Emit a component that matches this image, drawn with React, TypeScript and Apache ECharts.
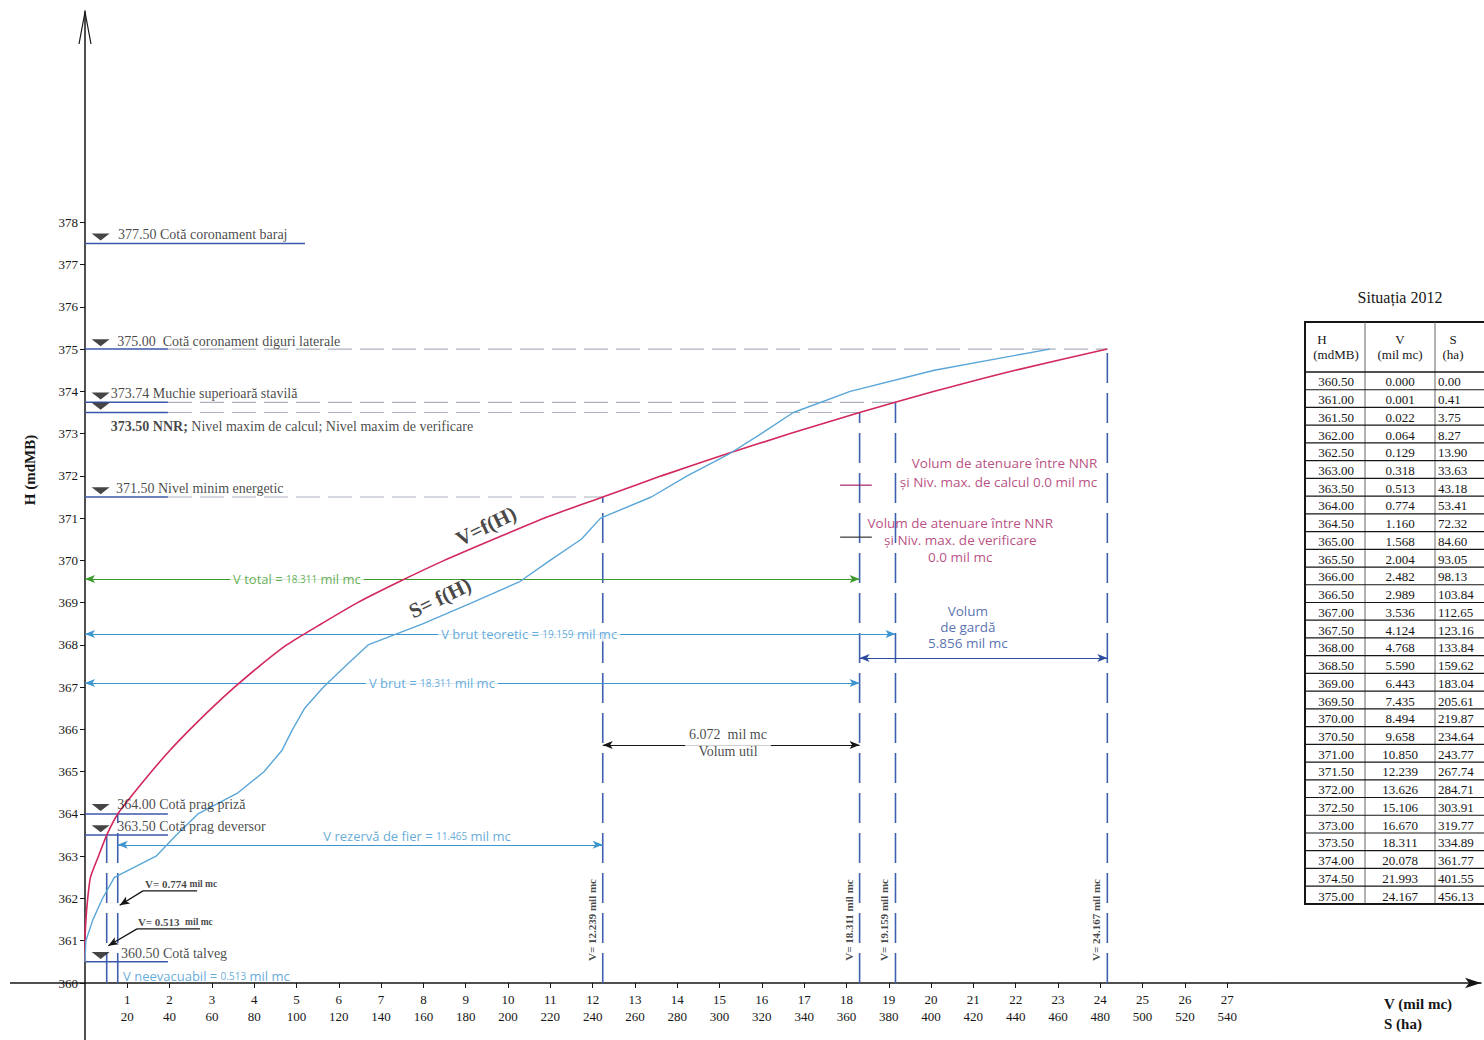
import React, { useEffect, useRef } from "react";
import * as echarts from "echarts";

// ---------- DATA (Situația 2012) ----------
const H_LEVELS = [360.5, 361.0, 361.5, 362.0, 362.5, 363.0, 363.5, 364.0, 364.5, 365.0, 365.5, 366.0, 366.5, 367.0, 367.5, 368.0, 368.5, 369.0, 369.5, 370.0, 370.5, 371.0, 371.5, 372.0, 372.5, 373.0, 373.5, 374.0, 374.5, 375.0];
const V_VOLUME = [0.0, 0.001, 0.022, 0.064, 0.129, 0.318, 0.513, 0.774, 1.16, 1.568, 2.004, 2.482, 2.989, 3.536, 4.124, 4.768, 5.59, 6.443, 7.435, 8.494, 9.658, 10.85, 12.239, 13.626, 15.106, 16.67, 18.311, 20.078, 21.993, 24.167];
const S_AREA = [0.0, 0.41, 3.75, 8.27, 13.9, 33.63, 43.18, 53.41, 72.32, 84.6, 93.05, 98.13, 103.84, 112.65, 123.16, 133.84, 159.62, 183.04, 205.61, 219.87, 234.64, 243.77, 267.74, 284.71, 303.91, 319.77, 334.89, 361.77, 401.55, 456.13];

const H_TICKS = [360, 361, 362, 363, 364, 365, 366, 367, 368, 369, 370, 371, 372, 373, 374, 375, 376, 377, 378];
const V_TICKS = [1, 2, 3, 4, 5, 6, 7, 8, 9, 10, 11, 12, 13, 14, 15, 16, 17, 18, 19, 20, 21, 22, 23, 24, 25, 26, 27];
const S_TICKS = [20, 40, 60, 80, 100, 120, 140, 160, 180, 200, 220, 240, 260, 280, 300, 320, 340, 360, 380, 400, 420, 440, 460, 480, 500, 520, 540];

const KEY_LEVELS = [377.5, 375.0, 373.74, 373.5, 371.5, 364.0, 363.5, 360.5];
const KEY_LEVEL_NAMES = ["Cotă coronament baraj", " Cotă coronament diguri laterale", "Muchie superioară stavilă", "NNR;", "Nivel minim energetic", "Cotă prag priză", "Cotă prag deversor", "Cotă talveg"];

const KEY_VOLUMES = [0.513, 0.774, 12.239, 18.311, 19.159, 24.167];
const KEY_VOLUME_TOPS = [363.5, 364.0, 371.5, 373.5, 373.74, 375.0];

const V_TOTAL = 18.311;
const V_BRUT_TEORETIC = 19.159;
const V_BRUT = 18.311;
const V_REZERVA = 11.465;
const V_NEEVACUABIL = 0.513;
const V_UTIL = 6.072;
const V_GARDA = 5.856;
const V_ATENUARE_CALCUL = 0.0;
const V_ATENUARE_VERIF = 0.0;

// ---------- STYLE ----------
const SERIF = '"Liberation Serif", "Times New Roman", serif';
const SANS = '"Open Sans", "Liberation Sans", sans-serif';
const INK = "#161616";
const RED = "#d2285c";
const SKY = "#5aa6d8";
const LBLUE = "#3d95cf";
const NAVY = "#3a58a8";
const GREEN = "#3c9a2c";
const MAGENTA = "#a82062";
const GRAY = "#aeb1bf";

function seg(points: number[][], color: string, width = 1.2, type: any = "solid", z = 3) {
  return {
    type: "line",
    data: points,
    symbol: "none",
    silent: true,
    z,
    lineStyle: { color, width, type },
    emphasis: { disabled: true },
  };
}

function arrowLine(p1: number[], p2: number[], color: string, symbols: string[], width = 1.2, z = 4) {
  return {
    type: "line",
    data: [],
    silent: true,
    z,
    markLine: {
      silent: true,
      symbol: symbols,
      symbolSize: [6, 10],
      lineStyle: { color, width, type: "solid" },
      label: { show: false },
      emphasis: { disabled: true },
      data: [[{ coord: p1 }, { coord: p2 }]],
    },
  };
}

function txt(x: number, y: number, text: string, o: any = {}) {
  return {
    value: [x, y],
    label: {
      show: true,
      position: "inside",
      formatter: () => text,
      color: INK,
      fontFamily: SERIF,
      fontSize: 14,
      align: "left",
      verticalAlign: "middle",
      ...o,
    },
  };
}

function buildOption() {
  const texts: any[] = [];

  // level annotations
  const LEVEL_DX = [0.78, 0.76, 0.61, 0.61, 0.73, 0.76, 0.76, 0.85];
  const LEVEL_DY = [0.21, 0.19, 0.2, -0.32, 0.2, 0.22, 0.2, 0.2];
  KEY_LEVELS.forEach((h, i) => {
    const label =
      i === 3
        ? `{b|${h.toFixed(2)} ${KEY_LEVEL_NAMES[i]}} Nivel maxim de calcul; Nivel maxim de verificare`
        : `${h.toFixed(2)} ${KEY_LEVEL_NAMES[i]}`;
    texts.push(
      txt(LEVEL_DX[i], h + LEVEL_DY[i], label, {
        rich: { b: { fontWeight: "bold", fontFamily: SERIF, fontSize: 14, color: INK } },
      })
    );
  });

  // vertical V= labels
  KEY_VOLUMES.slice(2).forEach((v) => {
    texts.push(
      txt(v - 0.26, 361.49, `V= ${v.toFixed(3)} mil mc`, {
        rotate: 90,
        align: "center",
        fontWeight: "bold",
        fontSize: 11,
      })
    );
  });

  const numRich = (color: string, font = SANS) => ({
    n: { fontSize: 10, fontFamily: font, color },
  });

  texts.push(
    txt(5.01, 369.56, `V total = {n|${V_TOTAL.toFixed(3)}} mil mc`, {
      align: "center", fontFamily: SANS, fontSize: 13, color: GREEN,
      backgroundColor: "#fff", padding: [1, 3], rich: numRich(GREEN),
    })
  );
  texts.push(
    txt(10.5, 368.26, `V brut teoretic = {n|${V_BRUT_TEORETIC.toFixed(3)}} mil mc`, {
      align: "center", fontFamily: SANS, fontSize: 13, color: LBLUE,
      backgroundColor: "#fff", padding: [1, 3], rich: numRich(LBLUE),
    })
  );
  texts.push(
    txt(8.2, 367.1, `V brut = {n|${V_BRUT.toFixed(3)}} mil mc`, {
      align: "center", fontFamily: SANS, fontSize: 13, color: LBLUE,
      backgroundColor: "#fff", padding: [1, 3], rich: numRich(LBLUE),
    })
  );
  texts.push(
    txt(7.85, 363.48, `V rezervă de fier = {n|${V_REZERVA.toFixed(3)}} mil mc`, {
      align: "center", fontFamily: SANS, fontSize: 13, color: LBLUE, rich: numRich(LBLUE),
    })
  );
  texts.push(
    txt(0.9, 360.17, `V neevacuabil = {n|${V_NEEVACUABIL.toFixed(3)}} mil mc`, {
      fontFamily: SANS, fontSize: 13, color: LBLUE, rich: numRich(LBLUE),
    })
  );
  texts.push(
    txt(15.2, 365.67, `${V_UTIL.toFixed(3)}  mil mc\nVolum util`, {
      align: "center", fontSize: 14, lineHeight: 17, backgroundColor: "#fff", padding: [0, 4],
    })
  );
  texts.push(
    txt(20.87, 368.42, `Volum\nde gardă\n${V_GARDA.toFixed(3)} mil mc`, {
      align: "center", fontFamily: SANS, fontSize: 13.5, lineHeight: 16, color: "#2c4c9c",
    })
  );
  texts.push(
    txt(23.93, 372.09, `Volum de atenuare între NNR\nși Niv. max. de calcul ${V_ATENUARE_CALCUL.toFixed(1)} mil mc`, {
      align: "right", fontFamily: SANS, fontSize: 13.5, lineHeight: 19, color: MAGENTA,
    })
  );
  texts.push(
    txt(20.69, 370.48, `Volum de atenuare între NNR\nși Niv. max. de verificare\n${V_ATENUARE_VERIF.toFixed(1)} mil mc`, {
      align: "center", fontFamily: SANS, fontSize: 13.5, lineHeight: 17, color: MAGENTA,
    })
  );

  // curve names
  texts.push(txt(9.48, 370.81, "V=f(H)", { align: "center", rotate: 26, fontWeight: "bold", fontSize: 21 }));
  texts.push(txt(8.39, 369.11, "S= f(H)", { align: "center", rotate: 26, fontWeight: "bold", fontSize: 21 }));

  // small leader labels
  texts.push(
    txt(1.42, 362.34, `V= ${KEY_VOLUMES[1].toFixed(3)} {m|mil mc}`, {
      fontWeight: "bold", fontSize: 11, rich: { m: { fontSize: 9.5, fontWeight: "bold", fontFamily: SERIF, color: INK } },
    })
  );
  texts.push(
    txt(1.25, 361.44, `V= ${KEY_VOLUMES[0].toFixed(3)}  {m|mil mc}`, {
      fontWeight: "bold", fontSize: 11, rich: { m: { fontSize: 9.5, fontWeight: "bold", fontFamily: SERIF, color: INK } },
    })
  );

  const series: any[] = [];

  // level stubs (solid) and dashed continuations
  KEY_LEVELS.forEach((h, i) => {
    series.push(seg([[0, h], [i === 0 ? 5.2 : 1.96, h]], NAVY, 1.5));
  });
  series.push(seg([[1.96, KEY_LEVELS[1]], [KEY_VOLUMES[5], KEY_LEVELS[1]]], GRAY, 1.2, [24, 8], 2));
  series.push(seg([[1.96, KEY_LEVELS[2]], [KEY_VOLUMES[4], KEY_LEVELS[2]]], GRAY, 1.2, [24, 8], 2));
  series.push(seg([[1.96, KEY_LEVELS[3]], [KEY_VOLUMES[3], KEY_LEVELS[3]]], GRAY, 1.2, [24, 8], 2));
  series.push(seg([[1.96, KEY_LEVELS[4]], [KEY_VOLUMES[2], KEY_LEVELS[4]]], GRAY, 1.2, [24, 8], 2));

  // vertical dashed volume lines
  KEY_VOLUMES.forEach((v, i) => {
    series.push(seg([[v, 360], [v, KEY_VOLUME_TOPS[i]]], "#3f5fb0", 1.6, [30, 10], 3));
  });

  // dimension lines
  const both = ["arrow", "arrow"];
  series.push(arrowLine([0, 369.56], [V_TOTAL, 369.56], GREEN, both));
  series.push(arrowLine([0, 368.26], [V_BRUT_TEORETIC, 368.26], LBLUE, both));
  series.push(arrowLine([0, 367.1], [V_BRUT, 367.1], LBLUE, both));
  series.push(arrowLine([KEY_VOLUMES[1], 363.27], [KEY_VOLUMES[2], 363.27], LBLUE, both));
  series.push(arrowLine([KEY_VOLUMES[2], 365.63], [KEY_VOLUMES[3], 365.63], INK, both));
  series.push(arrowLine([KEY_VOLUMES[3], 367.69], [KEY_VOLUMES[5], 367.69], "#2c4c9c", both));
  series.push(seg([[17.85, 371.78], [18.6, 371.78]], MAGENTA, 1.2));
  series.push(seg([[17.85, 370.55], [18.6, 370.55]], "#333", 1.2));

  // leaders
  series.push(seg([[1.37, 362.18], [2.65, 362.18]], INK, 1.2));
  series.push(arrowLine([1.37, 362.18], [0.82, 361.84], INK, ["none", "arrow"], 1.3));
  series.push(seg([[1.23, 361.28], [2.72, 361.28]], INK, 1.2));
  series.push(arrowLine([1.23, 361.28], [0.55, 360.88], INK, ["none", "arrow"], 1.3));

  // triangles
  series.push({
    type: "scatter",
    symbol: "triangle",
    symbolRotate: 180,
    symbolSize: [18, 7],
    silent: true,
    z: 6,
    itemStyle: { color: INK },
    data: KEY_LEVELS.map((h) => [0.37, h + 0.15]),
  });

  // curves
  series.push({
    type: "line",
    name: "V=f(H)",
    xAxisIndex: 0,
    data: H_LEVELS.map((h, i) => [V_VOLUME[i], h]),
    symbol: "none",
    smooth: 0.2,
    silent: true,
    z: 7,
    lineStyle: { color: RED, width: 1.6 },
  });
  series.push({
    type: "line",
    name: "S=f(H)",
    xAxisIndex: 1,
    data: H_LEVELS.map((h, i) => [S_AREA[i], h]),
    symbol: "none",
    silent: true,
    z: 7,
    lineStyle: { color: SKY, width: 1.4 },
  });

  // texts
  series.push({
    type: "scatter",
    symbol: "circle",
    symbolSize: 1,
    itemStyle: { color: "rgba(0,0,0,0)" },
    silent: true,
    clip: false,
    z: 10,
    data: texts,
    emphasis: { disabled: true },
  });

  // table graphic
  const tLeft = 1305, tTop = 322, headH = 50, rowH = 17.73, tRight = 1520;
  const colX = [1365, 1435];
  const tBottom = tTop + headH + rowH * H_LEVELS.length;
  const tableEls: any[] = [
    { type: "rect", shape: { x: tLeft, y: tTop, width: tRight - tLeft, height: tBottom - tTop }, style: { fill: "#fff", stroke: INK, lineWidth: 2 } },
    ...colX.map((x) => ({ type: "line", shape: { x1: x, y1: tTop, x2: x, y2: tBottom }, style: { stroke: "#666", lineWidth: 1 } })),
    { type: "line", shape: { x1: tLeft, y1: tTop + headH, x2: tRight, y2: tTop + headH }, style: { stroke: INK, lineWidth: 1.5 } },
  ];
  const tfont = `13px ${SERIF}`;
  const hdr = [
    ["H", 1322, tTop + 17], ["(mdMB)", 1336, tTop + 32],
    ["V", 1400, tTop + 17], ["(mil mc)", 1400, tTop + 32],
    ["S", 1453, tTop + 17], ["(ha)", 1453, tTop + 32],
  ];
  hdr.forEach(([t, x, y]) =>
    tableEls.push({ type: "text", x, y, style: { text: t, font: tfont, fill: INK, align: "center", verticalAlign: "middle" } })
  );
  H_LEVELS.forEach((h, i) => {
    const y0 = tTop + headH + i * rowH;
    tableEls.push({ type: "line", shape: { x1: tLeft, y1: y0 + rowH, x2: tRight, y2: y0 + rowH }, style: { stroke: INK, lineWidth: 1.2 } });
    tableEls.push({ type: "text", x: 1336, y: y0 + rowH / 2 + 1, style: { text: h.toFixed(2), font: tfont, fill: INK, align: "center", verticalAlign: "middle" } });
    tableEls.push({ type: "text", x: 1400, y: y0 + rowH / 2 + 1, style: { text: V_VOLUME[i].toFixed(3), font: tfont, fill: INK, align: "center", verticalAlign: "middle" } });
    tableEls.push({ type: "text", x: 1438, y: y0 + rowH / 2 + 1, style: { text: S_AREA[i].toFixed(2), font: tfont, fill: INK, align: "left", verticalAlign: "middle" } });
  });

  const graphic: any[] = [
    { type: "line", silent: true, shape: { x1: 10, y1: 983, x2: 85, y2: 983 }, style: { stroke: INK, lineWidth: 1.5 } },
    { type: "line", silent: true, shape: { x1: 85, y1: 983, x2: 85, y2: 1040 }, style: { stroke: INK, lineWidth: 1.5 } },
    { type: "polyline", silent: true, shape: { points: [[79, 44], [85, 12], [91, 44]] }, style: { stroke: INK, lineWidth: 1.2, fill: "none" } },
    { type: "text", x: 30, y: 470, rotation: Math.PI / 2, style: { text: "H (mdMB)", font: `bold 15px ${SERIF}`, fill: INK, align: "center", verticalAlign: "middle" } },
    { type: "text", x: 1384, y: 1004, style: { text: "V (mil mc)", font: `bold 15px ${SERIF}`, fill: INK, align: "left", verticalAlign: "middle" } },
    { type: "text", x: 1384, y: 1024, style: { text: "S (ha)", font: `bold 15px ${SERIF}`, fill: INK, align: "left", verticalAlign: "middle" } },
    { type: "text", x: 1400, y: 297, style: { text: "Situația 2012", font: `16px ${SERIF}`, fill: INK, align: "center", verticalAlign: "middle" } },
    ...tableEls,
  ];

  const axisFont = { fontFamily: SERIF, fontSize: 13, color: INK };

  return {
    animation: false,
    backgroundColor: "#fff",
    grid: { left: 85, right: 3, top: 11, bottom: 57, containLabel: false, outerBoundsMode: "none" },
    xAxis: [
      {
        type: "value",
        min: 0,
        max: 33,
        interval: 1,
        position: "bottom",
        axisLine: { show: true, lineStyle: { color: INK, width: 1.5 }, symbol: ["none", "arrow"], symbolSize: [8, 16] },
        axisTick: { show: true, customValues: V_TICKS, length: 5, lineStyle: { color: INK } },
        axisLabel: { ...axisFont, customValues: V_TICKS, margin: 10, formatter: (v: number) => (v >= 1 && v <= 27 ? String(v) : "") },
        splitLine: { show: false },
      },
      {
        type: "value",
        min: 0,
        max: 660,
        interval: 20,
        position: "bottom",
        axisLine: { show: false },
        axisTick: { show: false },
        axisLabel: { ...axisFont, customValues: S_TICKS, margin: 27, formatter: (v: number) => (v >= 20 && v <= 540 ? String(v) : "") },
        splitLine: { show: false },
      },
    ],
    yAxis: {
      type: "value",
      min: 360,
      max: 383,
      interval: 1,
      axisLine: { show: true, lineStyle: { color: INK, width: 1.5 } },
      axisTick: { show: true, customValues: H_TICKS, length: 5, lineStyle: { color: INK } },
      axisLabel: { ...axisFont, customValues: H_TICKS, margin: 7, formatter: (v: number) => (v <= 378 ? String(v) : "") },
      splitLine: { show: false },
    },
    series,
    graphic,
  };
}

export default function App() {
  const ref = useRef<HTMLDivElement>(null);
  useEffect(() => {
    if (!ref.current) return;
    const chart = echarts.init(ref.current, null, { renderer: "svg" });
    chart.setOption(buildOption() as any);
    return () => chart.dispose();
  }, []);
  return (
    <div
      ref={ref}
      style={{ position: "fixed", left: 0, top: 0, width: 1484, height: 1040, background: "#fff" }}
    />
  );
}
